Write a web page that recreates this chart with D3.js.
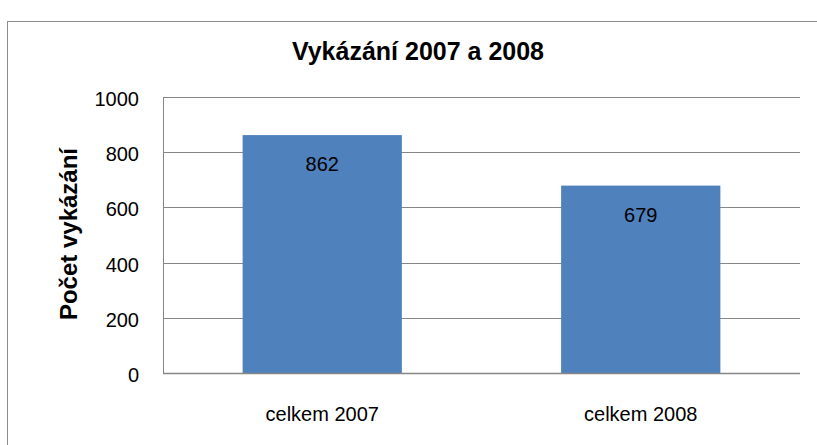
<!DOCTYPE html>
<html lang="cs">
<head>
<meta charset="UTF-8">
<script src="https://d3js.org/d3.v7.min.js"></script>
<style>
  body { margin: 0; background: #fff; font-family: "Liberation Sans", Arial, sans-serif; }
</style>
</head>
<body>
<svg id="chart" width="817" height="445"></svg>
<script>
const categories = ["celkem 2007", "celkem 2008"];
const values = [862, 679];
const yTicks = [0, 200, 400, 600, 800, 1000];

const W = 817, H = 445;
const margin = { top: 97, right: 17, bottom: 72, left: 163 };
const width = W - margin.left - margin.right,
      height = H - margin.top - margin.bottom;

const svg = d3.select("#chart");

// chart frame (right/bottom edges fall outside the picture)
svg.append("rect")
    .attr("x", 7.5).attr("y", 21.5)
    .attr("width", 830).attr("height", 450)
    .attr("fill", "#fff")
    .attr("stroke", "#8c8c8c")
    .attr("stroke-width", 1);

svg.append("text")
    .attr("x", 418).attr("y", 60)
    .attr("text-anchor", "middle")
    .style("font-size", "25px")
    .style("font-weight", "bold")
    .text("Vykázání 2007 a 2008");

const g = svg.append("g").attr("transform", `translate(${margin.left},${margin.top})`);

const x = d3.scaleBand()
    .domain(categories)
    .range([0, width])
    .paddingInner(0.5)
    .paddingOuter(0.25);

const y = d3.scaleLinear().domain([0, 1000]).range([height, 0]);

// gridlines
g.selectAll(".grid")
    .data(yTicks)
    .enter().append("line")
    .attr("x1", 0).attr("x2", width)
    .attr("y1", d => Math.round(y(d)) + 0.5)
    .attr("y2", d => Math.round(y(d)) + 0.5)
    .attr("stroke", "#868686")
    .attr("stroke-width", 1);

// bars
g.selectAll(".bar")
    .data(values)
    .enter().append("rect")
    .attr("x", (d, i) => x(categories[i]))
    .attr("y", d => y(d))
    .attr("width", x.bandwidth())
    .attr("height", d => height - y(d))
    .attr("fill", "#4F81BD");

// y axis line
g.append("line")
    .attr("x1", 0.5).attr("x2", 0.5)
    .attr("y1", 0).attr("y2", height)
    .attr("stroke", "#868686");

// x axis line on top of bars
g.append("line")
    .attr("x1", 0).attr("x2", width)
    .attr("y1", height + 0.5).attr("y2", height + 0.5)
    .attr("stroke", "#868686")
    .attr("stroke-width", 1.5);

// value labels
g.selectAll(".label")
    .data(values)
    .enter().append("text")
    .attr("x", (d, i) => x(categories[i]) + x.bandwidth() / 2)
    .attr("y", d => y(d) + 36)
    .attr("text-anchor", "middle")
    .style("font-size", "20px")
    .style("fill", "#000")
    .text(d => d);

// y tick labels
g.selectAll(".ytick")
    .data(yTicks)
    .enter().append("text")
    .attr("x", -24)
    .attr("y", d => y(d) + 2)
    .attr("dy", "0.35em")
    .attr("text-anchor", "end")
    .style("font-size", "20px")
    .text(d => d);

// x tick labels
g.selectAll(".xtick")
    .data(categories)
    .enter().append("text")
    .attr("x", d => x(d) + x.bandwidth() / 2)
    .attr("y", height + 48)
    .attr("text-anchor", "middle")
    .style("font-size", "20px")
    .text(d => d);

// y axis title
svg.append("text")
    .attr("transform", `translate(77,234) rotate(-90)`)
    .attr("text-anchor", "middle")
    .style("font-size", "24px")
    .style("font-weight", "bold")
    .text("Počet vykázání");
</script>
</body>
</html>
